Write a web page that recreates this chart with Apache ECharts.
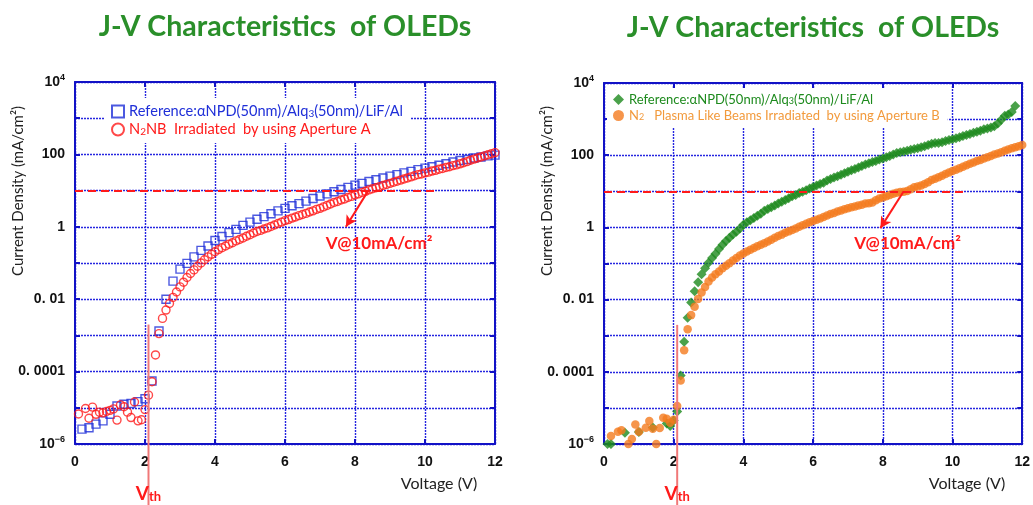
<!DOCTYPE html>
<html><head><meta charset="utf-8">
<script src="https://cdn.jsdelivr.net/npm/echarts@6/dist/echarts.min.js"></script>
<style>html,body{margin:0;padding:0;background:#fff}#c{width:1033px;height:505px}</style>
</head><body><div id="c"></div>
<script>
// ---------- data (voltage V, log10 of current density in mA/cm^2) ----------
// The y axis is decades of current density: tick value e stands for 10^e mA/cm^2.
const xTicks = [0, 2, 4, 6, 8, 10, 12];
const yTickLabels = { '4': '{n|10}{s|4}', '2': '100', '0': '1', '-2': '0. 01', '-4': '0. 0001', '-6': '{n|10}{s|−6}' };
const titles = ['J-V Characteristics  of OLEDs', 'J-V Characteristics  of OLEDs'];
const xName = 'Voltage (V)';
const yName = 'Current Density (mA/cm²)';
const arrowLabel = 'V@10mA/cm²';

const leftRefLog = [[0.2,-5.59],[0.4,-5.55],[0.6,-5.45],[0.8,-5.36],[1.0,-5.18],[1.2,-4.95],[1.4,-4.9],[1.6,-4.88],[1.8,-4.83],[2.0,-4.75],[2.2,-4.26],[2.4,-2.88],[2.6,-2.0],[2.8,-1.5],[3.0,-1.17],[3.2,-1.01],[3.4,-0.83],[3.6,-0.65],[3.8,-0.53],[4.0,-0.38],[4.2,-0.27],[4.4,-0.16],[4.6,-0.07],[4.8,0.04],[5.0,0.13],[5.2,0.21],[5.4,0.28],[5.6,0.36],[5.8,0.44],[6.0,0.51],[6.2,0.58],[6.4,0.64],[6.6,0.71],[6.8,0.78],[7.0,0.85],[7.2,0.91],[7.4,0.97],[7.6,1.03],[7.8,1.09],[8.0,1.15],[8.2,1.2],[8.4,1.25],[8.6,1.3],[8.8,1.35],[9.0,1.4],[9.2,1.44],[9.4,1.49],[9.6,1.53],[9.8,1.58],[10.0,1.62],[10.2,1.66],[10.4,1.7],[10.6,1.74],[10.8,1.79],[11.0,1.83],[11.2,1.86],[11.4,1.9],[11.6,1.93],[11.8,1.96],[12.0,1.98]];

const leftN2nbLog = [[0.1,-5.17],[0.3,-5.02],[0.4,-5.29],[0.5,-4.98],[0.6,-5.18],[0.7,-5.12],[0.8,-5.14],[0.9,-5.1],[1.0,-5.07],[1.1,-5.03],[1.2,-5.34],[1.3,-4.92],[1.4,-4.97],[1.5,-5.12],[1.6,-5.27],[1.7,-4.84],[1.8,-5.36],[1.9,-5.33],[2.0,-5.05],[2.1,-4.65],[2.2,-4.28],[2.3,-3.54],[2.4,-2.95],[2.5,-2.53],[2.6,-2.3],[2.7,-2.12],[2.8,-1.95],[2.9,-1.8],[3.0,-1.66],[3.1,-1.53],[3.2,-1.4],[3.3,-1.29],[3.4,-1.19],[3.5,-1.09],[3.6,-1.0],[3.7,-0.91],[3.8,-0.83],[3.9,-0.76],[4.0,-0.69],[4.1,-0.63],[4.2,-0.58],[4.3,-0.53],[4.4,-0.48],[4.5,-0.44],[4.6,-0.39],[4.7,-0.35],[4.8,-0.31],[4.9,-0.26],[5.0,-0.22],[5.1,-0.17],[5.2,-0.13],[5.3,-0.1],[5.4,-0.06],[5.5,-0.03],[5.6,0.01],[5.7,0.05],[5.8,0.09],[5.9,0.13],[6.0,0.17],[6.1,0.2],[6.2,0.24],[6.3,0.27],[6.4,0.31],[6.5,0.34],[6.6,0.37],[6.7,0.41],[6.8,0.44],[6.9,0.48],[7.0,0.51],[7.1,0.55],[7.2,0.59],[7.3,0.63],[7.4,0.67],[7.5,0.7],[7.6,0.74],[7.7,0.77],[7.8,0.81],[7.9,0.84],[8.0,0.88],[8.1,0.91],[8.2,0.95],[8.3,0.98],[8.4,1.02],[8.5,1.05],[8.6,1.08],[8.7,1.11],[8.8,1.14],[8.9,1.17],[9.0,1.2],[9.1,1.23],[9.2,1.26],[9.3,1.29],[9.4,1.32],[9.5,1.35],[9.6,1.38],[9.7,1.41],[9.8,1.44],[9.9,1.46],[10.0,1.49],[10.1,1.51],[10.2,1.54],[10.3,1.56],[10.4,1.59],[10.5,1.61],[10.6,1.64],[10.7,1.66],[10.8,1.69],[10.9,1.71],[11.0,1.74],[11.1,1.77],[11.2,1.8],[11.3,1.84],[11.4,1.87],[11.5,1.9],[11.6,1.93],[11.7,1.96],[11.8,1.99],[11.9,2.02],[12.0,2.05]];

const rightRefLog = [[0.1,-6.0],[0.2,-6.0],[0.6,-5.69],[1.0,-5.67],[1.4,-5.54],[1.8,-5.43],[1.9,-5.5],[2.0,-5.35],[2.1,-5.1],[2.2,-4.1],[2.3,-3.17],[2.4,-2.5],[2.5,-2.08],[2.6,-1.77],[2.7,-1.52],[2.8,-1.3],[2.9,-1.13],[3.0,-0.98],[3.1,-0.85],[3.2,-0.73],[3.3,-0.6],[3.4,-0.48],[3.5,-0.38],[3.6,-0.29],[3.7,-0.2],[3.8,-0.12],[3.9,-0.03],[4.0,0.07],[4.1,0.14],[4.2,0.2],[4.3,0.26],[4.4,0.32],[4.5,0.38],[4.6,0.46],[4.7,0.51],[4.8,0.56],[4.9,0.61],[5.0,0.66],[5.1,0.71],[5.2,0.76],[5.3,0.81],[5.4,0.86],[5.5,0.9],[5.6,0.95],[5.7,0.99],[5.8,1.03],[5.9,1.08],[6.0,1.12],[6.1,1.16],[6.2,1.2],[6.3,1.24],[6.4,1.3],[6.5,1.34],[6.6,1.38],[6.7,1.42],[6.8,1.46],[6.9,1.5],[7.0,1.54],[7.1,1.58],[7.2,1.62],[7.3,1.66],[7.4,1.7],[7.5,1.74],[7.6,1.78],[7.7,1.81],[7.8,1.84],[7.9,1.88],[8.0,1.91],[8.1,1.94],[8.2,1.98],[8.3,2.02],[8.4,2.06],[8.5,2.08],[8.6,2.1],[8.7,2.12],[8.8,2.15],[8.9,2.17],[9.0,2.19],[9.1,2.22],[9.2,2.25],[9.3,2.28],[9.4,2.32],[9.5,2.34],[9.6,2.34],[9.7,2.36],[9.8,2.39],[9.9,2.42],[10.0,2.44],[10.1,2.47],[10.2,2.5],[10.3,2.53],[10.4,2.56],[10.5,2.59],[10.6,2.62],[10.7,2.65],[10.8,2.68],[10.9,2.72],[11.0,2.74],[11.1,2.77],[11.2,2.8],[11.3,2.88],[11.4,2.98],[11.5,3.09],[11.6,3.13],[11.7,3.2],[11.8,3.36]];

const rightPlasmaLog = [[0.2,-5.78],[0.4,-5.66],[0.5,-5.62],[0.7,-6.0],[0.8,-5.86],[0.9,-5.46],[1.0,-5.66],[1.2,-5.55],[1.3,-5.36],[1.4,-5.58],[1.5,-6.0],[1.6,-5.56],[1.7,-5.27],[1.8,-5.3],[1.9,-5.41],[2.0,-5.33],[2.1,-4.95],[2.2,-4.24],[2.3,-3.4],[2.4,-2.82],[2.5,-2.43],[2.6,-2.2],[2.7,-1.98],[2.8,-1.8],[2.9,-1.65],[3.0,-1.5],[3.1,-1.39],[3.2,-1.3],[3.3,-1.22],[3.4,-1.13],[3.5,-1.06],[3.6,-0.99],[3.7,-0.92],[3.8,-0.85],[3.9,-0.78],[4.0,-0.72],[4.1,-0.67],[4.2,-0.62],[4.3,-0.57],[4.4,-0.52],[4.5,-0.48],[4.6,-0.44],[4.7,-0.39],[4.8,-0.34],[4.9,-0.29],[5.0,-0.24],[5.1,-0.2],[5.2,-0.15],[5.3,-0.11],[5.4,-0.07],[5.5,-0.03],[5.6,0.02],[5.7,0.06],[5.8,0.1],[5.9,0.14],[6.0,0.18],[6.1,0.21],[6.2,0.25],[6.3,0.29],[6.4,0.33],[6.5,0.37],[6.6,0.4],[6.7,0.44],[6.8,0.47],[6.9,0.5],[7.0,0.53],[7.1,0.56],[7.2,0.58],[7.3,0.61],[7.4,0.63],[7.5,0.66],[7.6,0.67],[7.7,0.69],[7.8,0.75],[7.9,0.8],[8.0,0.83],[8.1,0.86],[8.2,0.9],[8.3,0.93],[8.4,0.96],[8.5,0.98],[8.6,0.99],[8.7,1.01],[8.8,1.06],[8.9,1.11],[9.0,1.13],[9.1,1.16],[9.2,1.2],[9.3,1.25],[9.4,1.31],[9.5,1.35],[9.6,1.39],[9.7,1.43],[9.8,1.48],[9.9,1.52],[10.0,1.56],[10.1,1.6],[10.2,1.64],[10.3,1.68],[10.4,1.72],[10.5,1.76],[10.6,1.8],[10.7,1.84],[10.8,1.87],[10.9,1.91],[11.0,1.94],[11.1,1.98],[11.2,2.02],[11.3,2.05],[11.4,2.08],[11.5,2.12],[11.6,2.16],[11.7,2.19],[11.8,2.22],[11.9,2.25],[12.0,2.28]];

// annotations (data coordinates: V, log10 J)
const refLevel = 1;            // log10(10 mA/cm^2)
const refLineEndV = 10.3;
const vthV = 2.1;
const vthTopLog = -2.7;
const arrowsData = [ { from: [8.38, 1.0], to: [7.74, 0.0], label: [8.69, -0.45] },
                     { from: [8.6, 1.0], to: [7.93, -0.02], label: [8.71, -0.45] } ];

// ---------- styling ----------
const AX = '#1212c6', GRID = '#2626e0';
const BLUE = '#1f2fd8', RED = '#ff1a1a', GREEN = '#1d8a1d', ORANGE = '#f47a1e', ORANGE_TXT = '#f29a3c';
const TITLE_GREEN = '#2a8f2a';
const LAT = 'Lato, "Open Sans", sans-serif';
const TICKF = '"Liberation Sans", Arial, sans-serif';

const grids = [
  { left: 75, top: 82, width: 420, height: 362 },
  { left: 604, top: 83, width: 419, height: 361 }
];

function xAxes(gi) {
  return [
    { type: 'value', gridIndex: gi, min: 0, max: 12, interval: 2, position: 'bottom',
      axisLine: { show: true, onZero: false, lineStyle: { color: AX, width: 2 } },
      axisTick: { show: true, inside: true, length: 5, lineStyle: { color: AX, width: 2 } },
      axisLabel: { color: '#111', fontFamily: TICKF, fontWeight: 'bold', fontSize: 14, margin: 11 },
      splitLine: { show: true, lineStyle: { color: GRID, type: [2, 1], width: 1.4 } } },
    { type: 'value', gridIndex: gi, min: 0, max: 12, interval: 2, position: 'top',
      axisLine: { show: true, onZero: false, lineStyle: { color: AX, width: 2 } },
      axisTick: { show: true, inside: true, length: 5, lineStyle: { color: AX, width: 2 } },
      axisLabel: { show: false }, splitLine: { show: false } }
  ];
}
function yAxes(gi) {
  return [
    { type: 'value', gridIndex: gi, min: -6, max: 4, interval: 1, position: 'left',
      axisLine: { show: true, onZero: false, lineStyle: { color: AX, width: 2 } },
      axisTick: { show: true, inside: true, length: 5, lineStyle: { color: AX, width: 2 } },
      axisLabel: { color: '#111', fontFamily: TICKF, fontWeight: 'bold', fontSize: 14, margin: 10,
        formatter: v => yTickLabels[String(Math.round(v))] || '',
        rich: { n: { fontFamily: TICKF, fontWeight: 'bold', fontSize: 14, color: '#111' },
                s: { fontFamily: TICKF, fontWeight: 'bold', fontSize: 9, color: '#111', verticalAlign: 'top', padding: [0, 0, 8, 0] } } },
      splitLine: { show: true, lineStyle: { color: GRID, type: [2, 1], width: 1.4 } } },
    { type: 'value', gridIndex: gi, min: -6, max: 4, interval: 1, position: 'right',
      axisLine: { show: true, onZero: false, lineStyle: { color: AX, width: 2 } },
      axisTick: { show: true, inside: true, length: 5, lineStyle: { color: AX, width: 2 } },
      axisLabel: { show: false }, splitLine: { show: false } }
  ];
}

function refMarkLine(ai) {
  const a = arrowsData[ai];
  return {
    silent: true, symbol: 'none', animation: false, label: { show: false },
    data: [
      [{ coord: [0, refLevel], lineStyle: { color: RED, type: [8, 5], width: 2 } }, { coord: [refLineEndV, refLevel] }],
      [{ coord: a.from, symbol: 'none', lineStyle: { color: RED, type: 'solid', width: 2 } }, { coord: a.to, symbol: 'arrow', symbolSize: [9, 11] }]
    ]
  };
}

const legendFmt = {
  refA: '{b|Reference:αNPD(50nm)/Alq}{bs|3}{b|(50nm)/LiF/Al}',
  n2nb: '{r|N}{rs|2}{r|NB  Irradiated  by using Aperture A}',
  refB: '{g|Reference:αNPD(50nm)/Alq}{gs|3}{g|(50nm)/LiF/Al}',
  plasma: '{o|N}{os|2}{o|   Plasma Like Beams Irradiated  by using Aperture B}'
};
const richL = {
  b: { color: BLUE, fontFamily: LAT, fontSize: 14.6 }, bs: { color: BLUE, fontFamily: LAT, fontSize: 10, verticalAlign: 'bottom', padding: [4, 0, 0, 0] },
  r: { color: RED, fontFamily: LAT, fontSize: 14.6 }, rs: { color: RED, fontFamily: LAT, fontSize: 10, verticalAlign: 'bottom', padding: [4, 0, 0, 0] }
};
const richR = {
  g: { color: GREEN, fontFamily: LAT, fontSize: 13 }, gs: { color: GREEN, fontFamily: LAT, fontSize: 9, verticalAlign: 'bottom', padding: [4, 0, 0, 0] },
  o: { color: ORANGE_TXT, fontFamily: LAT, fontSize: 13 }, os: { color: ORANGE_TXT, fontFamily: LAT, fontSize: 9, verticalAlign: 'bottom', padding: [4, 0, 0, 0] }
};

const option = {
  backgroundColor: '#fff',
  animation: false,
  title: [
    { text: titles[0], left: 280, top: 7, textAlign: 'center', textStyle: { color: TITLE_GREEN, fontFamily: LAT, fontWeight: 'bold', fontSize: 28.5 } },
    { text: titles[1], left: 808, top: 8, textAlign: 'center', textStyle: { color: TITLE_GREEN, fontFamily: LAT, fontWeight: 'bold', fontSize: 28.5 } }
  ],
  grid: grids.map(g => Object.assign({ show: false }, g)),
  xAxis: [...xAxes(0), ...xAxes(1)],
  yAxis: [...yAxes(0), ...yAxes(1)],
  legend: [
    { orient: 'vertical', left: 105, top: 98, padding: [6, 8, 6, 6], itemGap: 3, itemWidth: 12, itemHeight: 12,
      backgroundColor: '#fff', data: ['refA', 'n2nb'], formatter: n => legendFmt[n], textStyle: { rich: richL } },
    { orient: 'vertical', left: 607, top: 88, padding: [5, 8, 5, 6], itemGap: 3, itemWidth: 11, itemHeight: 11,
      backgroundColor: '#fff', data: ['refB', 'plasma'], formatter: n => legendFmt[n], textStyle: { rich: richR } }
  ],
  series: [
    { name: 'refA', type: 'scatter', xAxisIndex: 0, yAxisIndex: 0, data: leftRefLog, symbol: 'rect', symbolSize: 8,
      itemStyle: { color: 'rgba(0,0,0,0)', borderColor: BLUE, borderWidth: 1.4 }, markLine: refMarkLine(0) },
    { name: 'n2nb', type: 'scatter', xAxisIndex: 0, yAxisIndex: 0, data: leftN2nbLog, symbol: 'circle', symbolSize: 8,
      itemStyle: { color: 'rgba(0,0,0,0)', borderColor: RED, borderWidth: 1.4 } },
    { name: 'refB', type: 'scatter', xAxisIndex: 2, yAxisIndex: 2, data: rightRefLog, symbol: 'diamond', symbolSize: 10,
      itemStyle: { color: GREEN }, markLine: refMarkLine(1) },
    { name: 'plasma', type: 'scatter', xAxisIndex: 2, yAxisIndex: 2, data: rightPlasmaLog, symbol: 'circle', symbolSize: 8.5,
      itemStyle: { color: ORANGE } }
  ]
};

const chart = echarts.init(document.getElementById('c'), null, { renderer: 'canvas' });
chart.setOption(option);

// ---------- annotations placed through the chart's own scales ----------
const gfx = [];
[0, 1].forEach(gi => {
  const finder = { xAxisIndex: gi * 2, yAxisIndex: gi * 2 };
  const g = grids[gi];
  const top = chart.convertToPixel(finder, [vthV, vthTopLog]);
  gfx.push({ type: 'line', z: 50, shape: { x1: top[0], y1: top[1], x2: top[0], y2: 505 }, style: { stroke: '#f07878', lineWidth: 2 } });
  gfx.push({ type: 'text', z: 50, x: top[0], y: 494, style: { text: '{v|V}{t|th}', align: 'center', verticalAlign: 'middle',
    rich: { v: { fill: RED, fontFamily: LAT, fontWeight: 'bold', fontSize: 19 }, t: { fill: RED, fontFamily: LAT, fontWeight: 'bold', fontSize: 13, verticalAlign: 'bottom', padding: [6, 0, 0, 0] } } } });
  const lp = chart.convertToPixel(finder, arrowsData[gi].label);
  gfx.push({ type: 'text', z: 50, x: lp[0], y: lp[1], style: { text: arrowLabel, align: 'center', verticalAlign: 'middle', fill: RED, font: 'bold 17px ' + LAT } });
  gfx.push({ type: 'text', z: 50, x: g.left - 57, y: 191, rotation: Math.PI / 2, style: { text: yName, align: 'center', verticalAlign: 'middle', fill: '#222', font: '15px ' + LAT } });
  gfx.push({ type: 'text', z: 50, x: g.left + g.width - 56, y: 484, style: { text: xName, align: 'center', verticalAlign: 'middle', fill: '#222', font: '16px ' + LAT } });
});
chart.setOption({ graphic: gfx });
</script>
</body></html>
